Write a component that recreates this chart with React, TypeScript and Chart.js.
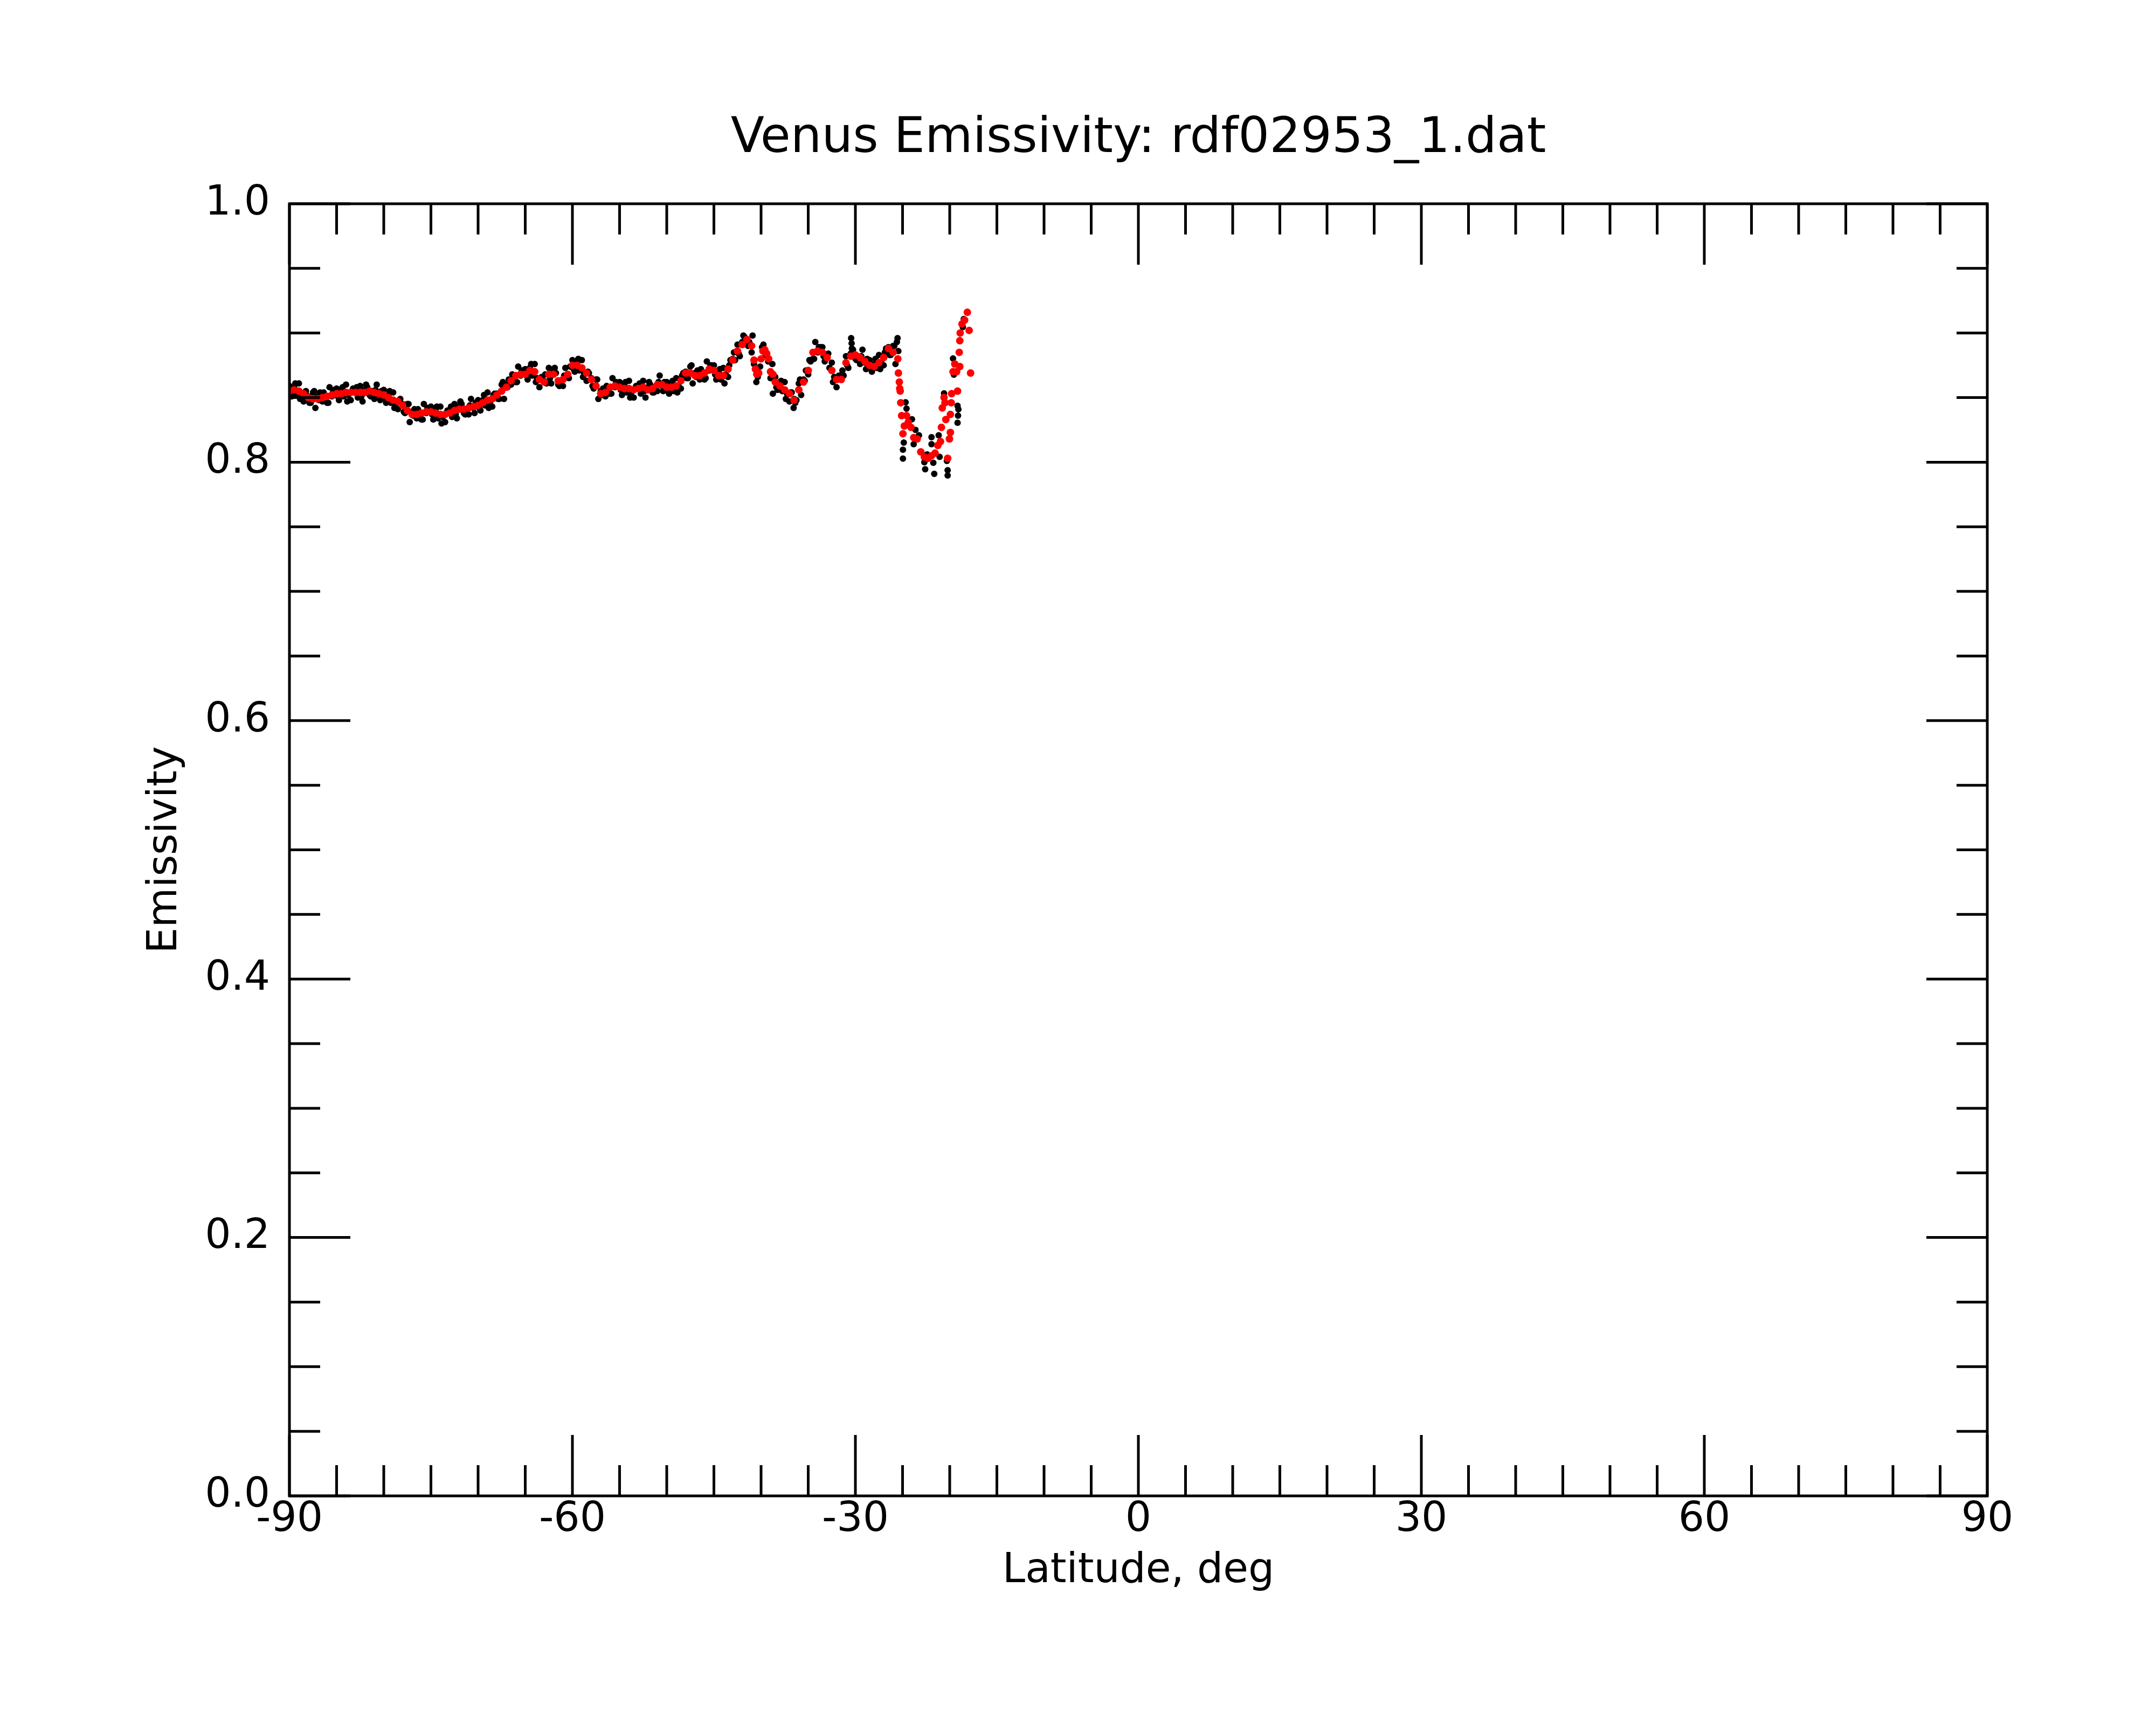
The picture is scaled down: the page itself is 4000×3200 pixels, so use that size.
import { useEffect, useRef } from 'react'
import { Chart, registerables } from 'chart.js'

Chart.register(...registerables)

const FONT = '"DejaVu Sans", sans-serif'
const CHART_TITLE = 'Venus Emissivity: rdf02953_1.dat'
const X_TITLE = 'Latitude, deg'
const Y_TITLE = 'Emissivity'

// axis ticks
const xMajorTicks = [-90, -60, -30, 0, 30, 60, 90]
const xMinorStep = 5
const yMajorTicks = [0, 0.2, 0.4, 0.6, 0.8, 1.0]
const yMinorStep = 0.05

// smoothed emissivity (red)
const redLat = [
  -90, -89.5, -89, -88.5, -88, -87.5, -87, -86.5, -86, -85.5,
  -85, -84.5, -84, -83.5, -83, -82.5, -82, -81.5, -81, -80.5,
  -80, -79.5, -79, -78.5, -78, -77.5, -77, -76.5, -76, -75.5,
  -75, -74.5, -74, -73.5, -73, -72.5, -72, -71.5, -71, -70.5,
  -70, -69.5, -69, -68.5, -68, -67.5, -67, -66.5, -66, -65.5,
  -65, -64.5, -64, -63.5, -63, -62.5, -62, -61.5, -61, -60.5,
  -60, -59.5, -59, -58.5, -58, -57.5, -57, -56.5, -56, -55.5,
  -55, -54.5, -54, -53.5, -53, -52.5, -52, -51.5, -51, -50.5,
  -50, -49.5, -49, -48.5, -48, -47.5, -47, -46.5, -46, -45.5,
  -45, -44.5, -44, -43.5, -43, -42.5, -42, -41.5, -41,
  -40.75, -40.6, -40.45, -40.25, -40, -39.8, -39.6, -39.4, -39.2, -39, -38.75,
  -38.5, -38, -37.5, -37, -36.5, -36, -35.5, -35, -34.5, -34,
  -33.5, -33, -32.5, -32, -31.5, -31, -30.5, -30, -29.5, -29,
  -28.5, -28, -27.5, -27, -26.5, -26, -25.5,
  -25.44, -25.34, -25.3, -25.25, -25.19, -25.1, -24.96, -24.81, -24.58, -24.39,
  -24.11, -23.82, -23.45, -23.07, -22.69, -22.31, -21.93, -21.55, -21.26, -20.98,
  -20.88, -20.79, -20.6, -20.5, -20.41, -20.22, -20.03, -19.93, -19.93, -19.84,
  -19.8, -19.65, -19.46, -19.27, -19.17, -18.99, -18.93, -18.93, -18.89, -18.7,
  -18.42, -18.13, -17.94, -17.79,
]
const redEmis = [
  0.855, 0.856, 0.855, 0.853, 0.85, 0.849, 0.849, 0.85, 0.851, 0.852,
  0.853, 0.853, 0.854, 0.854, 0.854, 0.854, 0.854, 0.855, 0.854, 0.853,
  0.852, 0.85, 0.848, 0.847, 0.844, 0.84, 0.837, 0.837, 0.838, 0.839,
  0.839, 0.838, 0.837, 0.837, 0.838, 0.84, 0.841, 0.841, 0.842, 0.843,
  0.844, 0.846, 0.848, 0.849, 0.852, 0.855, 0.858, 0.863, 0.867, 0.868,
  0.868, 0.871, 0.87, 0.864, 0.862, 0.868, 0.868, 0.863, 0.864, 0.868,
  0.875, 0.875, 0.873, 0.869, 0.864, 0.859, 0.853, 0.854, 0.858, 0.859,
  0.858, 0.857, 0.857, 0.856, 0.857, 0.858, 0.856, 0.857, 0.86, 0.86,
  0.858, 0.858, 0.859, 0.863, 0.869, 0.869, 0.867, 0.867, 0.869, 0.872,
  0.871, 0.867, 0.867, 0.872, 0.879, 0.886, 0.891, 0.895, 0.89,
  0.879, 0.872, 0.868, 0.869, 0.88, 0.886, 0.887, 0.884, 0.88, 0.87, 0.868,
  0.862, 0.859, 0.856, 0.853, 0.848, 0.856, 0.862, 0.871, 0.885, 0.886,
  0.885, 0.881, 0.871, 0.864, 0.864, 0.877, 0.882, 0.883, 0.881, 0.878,
  0.875, 0.874, 0.877, 0.881, 0.888, 0.885, 0.88,
  0.869, 0.862, 0.857, 0.855, 0.846, 0.836, 0.822, 0.828, 0.836, 0.831,
  0.827, 0.819, 0.818, 0.808, 0.804, 0.803, 0.805, 0.807, 0.813, 0.816,
  0.827, 0.842, 0.85, 0.846, 0.833, 0.803, 0.818, 0.823, 0.837, 0.846,
  0.853, 0.87, 0.876, 0.87, 0.855, 0.885, 0.874, 0.894, 0.9, 0.907,
  0.91, 0.916, 0.902, 0.869,
]

// raw emissivity (black), first pass
const blackLat = [
  -90, -89.75, -89.5, -89.25, -89, -88.75, -88.5, -88.25,
  -88, -87.75, -87.5, -87.25, -87, -86.75, -86.5, -86.25,
  -86, -85.75, -85.5, -85.25, -85, -84.75, -84.5, -84.25,
  -84, -83.75, -83.5, -83.25, -83, -82.75, -82.5, -82.25,
  -82, -81.75, -81.5, -81.25, -81, -80.75, -80.5, -80.25,
  -80, -79.75, -79.5, -79.25, -79, -78.75, -78.5, -78.25,
  -78, -77.75, -77.5, -77.25, -77, -76.75, -76.5, -76.25,
  -76, -75.75, -75.5, -75.25, -75, -74.75, -74.5, -74.25,
  -74, -73.75, -73.5, -73.25, -73, -72.75, -72.5, -72.25,
  -72, -71.75, -71.5, -71.25, -71, -70.75, -70.5, -70.25,
  -70, -69.75, -69.5, -69.25, -69, -68.75, -68.5, -68.25,
  -68, -67.75, -67.5, -67.25, -67, -66.75, -66.5, -66.25,
  -66, -65.75, -65.5, -65.25, -65, -64.75, -64.5, -64.25,
  -64, -63.75, -63.5, -63.25, -63, -62.75, -62.5, -62.25,
  -62, -61.75, -61.5, -61.25, -61, -60.75, -60.5, -60.25,
  -60, -59.75, -59.5, -59.25, -59, -58.75, -58.5, -58.25,
  -58, -57.75, -57.5, -57.25, -57, -56.75, -56.5, -56.25,
  -56, -55.75, -55.5, -55.25, -55, -54.75, -54.5, -54.25,
  -54, -53.75, -53.5, -53.25, -53, -52.75, -52.5, -52.25,
  -52, -51.75, -51.5, -51.25, -51, -50.75, -50.5, -50.25,
  -50, -49.75, -49.5, -49.25, -49, -48.75, -48.5, -48.25,
  -48, -47.75, -47.5, -47.25, -47, -46.75, -46.5, -46.25,
  -46, -45.75, -45.5, -45.25, -45, -44.75, -44.5, -44.25,
  -44, -43.75, -43.5, -43.25, -43, -42.75, -42.5, -42.25,
  -42, -41.75, -41.5, -41.25, -41,
  -40.9, -40.75, -40.5, -40.35, -40.1, -39.9, -39.75, -39.5, -39.25, -39, -38.8, -38.75,
  -38.5, -38.25, -38, -37.75, -37.5, -37.25, -37, -36.75,
  -36.5, -36.25, -36, -35.75, -35.5, -35.25, -35, -34.75,
  -34.5, -34.25, -34, -33.75, -33.5, -33.25, -33, -32.75,
  -32.5, -32.25, -32, -31.75, -31.5, -31.25, -31, -30.75,
  -30.5, -30.25, -30, -29.75, -29.5, -29.25, -29, -28.75,
  -28.5, -28.25, -28, -27.75, -27.5, -27.25, -27, -26.75,
  -26.5, -26.25, -26, -25.75,
  -36.55, -30.45, -30.4, -25.6, -25.53, -25.45,
  -24.96, -24.96, -24.87, -24.68, -24.58, -24, -23.82, -23.63, -23.26, -22.69,
  -22.6, -22.4, -21.93, -21.93, -21.74, -21.64, -21.17, -21.07, -20.6, -20.3,
  -20.22, -20.22, -19.65, -19.56, -19.17, -19.12, -19.08, -19.17, -18.61, -18.51,
]
const blackEmis = [
  0.859, 0.851, 0.858, 0.853, 0.861, 0.852, 0.847, 0.855,
  0.851, 0.846, 0.854, 0.842, 0.851, 0.854, 0.847, 0.851,
  0.846, 0.858, 0.851, 0.856, 0.857, 0.848, 0.855, 0.851,
  0.86, 0.852, 0.848, 0.857, 0.855, 0.85, 0.859, 0.847,
  0.856, 0.858, 0.852, 0.855, 0.849, 0.86, 0.852, 0.855,
  0.856, 0.846, 0.852, 0.846, 0.854, 0.845, 0.841, 0.849,
  0.845, 0.838, 0.845, 0.831, 0.839, 0.841, 0.834, 0.837,
  0.833, 0.845, 0.838, 0.842, 0.843, 0.833, 0.84, 0.834,
  0.843, 0.835, 0.831, 0.84, 0.839, 0.835, 0.845, 0.834,
  0.843, 0.845, 0.838, 0.841, 0.837, 0.849, 0.842, 0.846,
  0.848, 0.84, 0.848, 0.844, 0.854, 0.846, 0.843, 0.853,
  0.853, 0.849, 0.86, 0.849, 0.86, 0.864, 0.86, 0.865,
  0.862, 0.874, 0.867, 0.871, 0.872, 0.864, 0.873, 0.867,
  0.876, 0.865, 0.858, 0.866, 0.863, 0.861, 0.873, 0.861,
  0.87, 0.869, 0.86, 0.863, 0.859, 0.873, 0.867, 0.874,
  0.879, 0.87, 0.877, 0.871, 0.879, 0.869, 0.863, 0.869,
  0.865, 0.857, 0.864, 0.849, 0.855, 0.857, 0.851, 0.856,
  0.853, 0.865, 0.858, 0.861, 0.862, 0.852, 0.859, 0.854,
  0.863, 0.854, 0.85, 0.859, 0.858, 0.853, 0.863, 0.85,
  0.858, 0.86, 0.854, 0.858, 0.855, 0.867, 0.859, 0.862,
  0.862, 0.853, 0.86, 0.855, 0.865, 0.859, 0.857, 0.869,
  0.87, 0.865, 0.874, 0.861, 0.869, 0.871, 0.864, 0.868,
  0.864, 0.878, 0.871, 0.875, 0.875, 0.864, 0.869, 0.864,
  0.873, 0.868, 0.866, 0.879, 0.88, 0.879, 0.891, 0.882,
  0.893, 0.897, 0.892, 0.893, 0.885,
  0.898, 0.876, 0.862, 0.866, 0.874, 0.889, 0.891, 0.883, 0.878, 0.865, 0.876, 0.853,
  0.866, 0.856, 0.861, 0.855, 0.862, 0.853, 0.847, 0.854,
  0.849, 0.848, 0.861, 0.852, 0.864, 0.871, 0.868, 0.878,
  0.88, 0.893, 0.885, 0.889, 0.889, 0.878, 0.883, 0.873,
  0.877, 0.866, 0.858, 0.867, 0.865, 0.867, 0.882, 0.873,
  0.884, 0.887, 0.88, 0.882, 0.876, 0.887, 0.877, 0.88,
  0.879, 0.87, 0.876, 0.873, 0.883, 0.877, 0.875, 0.888,
  0.889, 0.883, 0.89, 0.876,
  0.842, 0.896, 0.892, 0.893, 0.896, 0.886,
  0.8097, 0.8028, 0.8152, 0.8464, 0.8415, 0.8332, 0.8139, 0.825, 0.8208, 0.8,
  0.7945, 0.806, 0.8194, 0.8139, 0.7995, 0.791, 0.8208, 0.8041, 0.8533, 0.801,
  0.7938, 0.7897, 0.8803, 0.8678, 0.8437, 0.836, 0.8409, 0.8305, 0.9046, 0.9108,
]

// raw emissivity (black), in-between samples
const blackLatB = [
  -89.875, -89.375, -88.875, -88.375, -87.875, -87.375, -86.875, -86.375, -85.875, -85.375,
  -84.875, -84.375, -83.875, -83.375, -82.875, -82.375, -81.875, -81.375, -80.875, -80.375,
  -79.875, -79.375, -78.875, -78.375, -77.875, -77.375, -76.875, -76.375, -75.875, -75.375,
  -74.875, -74.375, -73.875, -73.375, -72.875, -72.375, -71.875, -71.375, -70.875, -70.375,
  -69.875, -69.375, -68.875, -68.375, -67.875, -67.375, -66.875, -66.375, -65.875, -65.375,
  -64.875, -64.375, -63.875, -63.375, -62.875, -62.375, -61.875, -61.375, -60.875, -60.375,
  -59.875, -59.375, -58.875, -58.375, -57.875, -57.375, -56.875, -56.375, -55.875, -55.375,
  -54.875, -54.375, -53.875, -53.375, -52.875, -52.375, -51.875, -51.375, -50.875, -50.375,
  -49.875, -49.375, -48.875, -48.375, -47.875, -47.375, -46.875, -46.375, -45.875, -45.375,
  -44.875, -44.375, -43.875, -43.375, -42.875, -42.375, -41.875, -41.375,
  -38.375, -37.875, -37.375, -36.875, -36.375, -35.875, -35.375, -34.875, -34.375, -33.875,
  -33.375, -32.875, -32.375, -31.875, -31.375, -30.875, -30.375, -29.875, -29.375, -28.875,
  -28.375, -27.875, -27.375, -26.875, -26.375, -25.875,
]
const blackEmisB = [
  0.852, 0.861, 0.849, 0.854, 0.846, 0.855, 0.848, 0.854, 0.846, 0.855,
  0.851, 0.858, 0.847, 0.855, 0.858, 0.851, 0.86, 0.851, 0.856, 0.848,
  0.849, 0.855, 0.842, 0.848, 0.839, 0.845, 0.836, 0.841, 0.833, 0.842,
  0.837, 0.843, 0.83, 0.838, 0.843, 0.837, 0.847, 0.837, 0.844, 0.838,
  0.842, 0.852, 0.842, 0.852, 0.849, 0.862, 0.858, 0.868, 0.862, 0.871,
  0.867, 0.876, 0.862, 0.865, 0.868, 0.865, 0.873, 0.859, 0.867, 0.865,
  0.872, 0.88, 0.866, 0.87, 0.859, 0.864, 0.852, 0.859, 0.853, 0.862,
  0.856, 0.862, 0.85, 0.857, 0.861, 0.855, 0.862, 0.854, 0.862, 0.855,
  0.855, 0.863, 0.854, 0.867, 0.865, 0.875, 0.866, 0.872, 0.865, 0.875,
  0.868, 0.872, 0.861, 0.875, 0.885, 0.884, 0.898, 0.89,
  0.858, 0.863, 0.849, 0.854, 0.846, 0.864, 0.863, 0.879, 0.88, 0.889,
  0.882, 0.884, 0.862, 0.865, 0.871, 0.875, 0.888, 0.879, 0.882, 0.872,
  0.872, 0.88, 0.872, 0.885, 0.883, 0.89,
]

const framePlugin = {
  id: 'frame',
  afterDraw(chart: Chart) {
    const { ctx, chartArea: a, scales } = chart
    const xs = scales.x
    const ys = scales.y
    const majorLen = 113
    const minorLen = 57

    ctx.save()
    ctx.strokeStyle = '#000'
    ctx.lineWidth = 5
    ctx.strokeRect(a.left, a.top, a.right - a.left, a.bottom - a.top)

    ctx.beginPath()
    const xMin = xMajorTicks[0]
    const xMax = xMajorTicks[xMajorTicks.length - 1]
    for (let v = xMin; v <= xMax; v += xMinorStep) {
      const px = xs.getPixelForValue(v)
      const len = xMajorTicks.includes(v) ? majorLen : minorLen
      ctx.moveTo(px, a.bottom)
      ctx.lineTo(px, a.bottom - len)
      ctx.moveTo(px, a.top)
      ctx.lineTo(px, a.top + len)
    }
    const yMax = yMajorTicks[yMajorTicks.length - 1]
    const nMinor = Math.round(yMax / yMinorStep)
    for (let i = 0; i <= nMinor; i++) {
      const v = i * yMinorStep
      const py = ys.getPixelForValue(v)
      const isMajor = yMajorTicks.some(t => Math.abs(t - v) < 1e-9)
      const len = isMajor ? majorLen : minorLen
      ctx.moveTo(a.left, py)
      ctx.lineTo(a.left + len, py)
      ctx.moveTo(a.right, py)
      ctx.lineTo(a.right - len, py)
    }
    ctx.stroke()

    // titles
    const cx = (a.left + a.right) / 2
    ctx.fillStyle = '#000'
    ctx.textAlign = 'center'
    ctx.textBaseline = 'alphabetic'
    ctx.font = `91px ${FONT}`
    ctx.fillText(CHART_TITLE, cx, a.top - 96)
    ctx.font = `76px ${FONT}`
    ctx.fillText(X_TITLE, cx, a.bottom + 160)
    ctx.translate(a.left - 210, (a.top + a.bottom) / 2)
    ctx.rotate(-Math.PI / 2)
    ctx.fillText(Y_TITLE, 0, 0)
    ctx.restore()
  },
}

export default function App() {
  const chartRef = useRef<HTMLCanvasElement>(null)
  const chartInstance = useRef<Chart | null>(null)

  useEffect(() => {
    if (!chartRef.current) return
    document.body.style.margin = '0'

    if (chartInstance.current) {
      chartInstance.current.destroy()
    }

    const ctx = chartRef.current.getContext('2d')
    if (!ctx) return

    const redPoints = redLat.map((lat, i) => ({ x: lat, y: redEmis[i] }))
    const blackPoints = blackLat
      .map((lat, i) => ({ x: lat, y: blackEmis[i] }))
      .concat(blackLatB.map((lat, i) => ({ x: lat, y: blackEmisB[i] })))
    const tickFont = { family: FONT, size: 76 }

    chartInstance.current = new Chart(ctx, {
      type: 'scatter',
      data: {
        datasets: [
          {
            label: 'smoothed',
            data: redPoints,
            backgroundColor: '#ff0000',
            borderWidth: 0,
            pointRadius: 7,
          },
          {
            label: 'raw',
            data: blackPoints,
            backgroundColor: '#000000',
            borderWidth: 0,
            pointRadius: 6,
          },
        ],
      },
      options: {
        animation: false,
        responsive: false,
        devicePixelRatio: 1,
        events: [],
        layout: { padding: { left: 0, top: 378, right: 313, bottom: 0 } },
        plugins: {
          legend: { display: false },
          tooltip: { enabled: false },
          title: { display: false },
        },
        scales: {
          x: {
            type: 'linear',
            min: -90,
            max: 90,
            grid: { display: false, drawTicks: false },
            border: { display: false },
            ticks: {
              stepSize: 30,
              padding: 0,
              color: '#000',
              font: tickFont,
              maxRotation: 0,
              autoSkip: false,
              callback: (v) => String(v),
            },
            afterFit: (s) => {
              s.height = 425
            },
          },
          y: {
            type: 'linear',
            min: 0,
            max: 1,
            grid: { display: false, drawTicks: false },
            border: { display: false },
            ticks: {
              stepSize: 0.2,
              padding: 36,
              color: '#000',
              font: tickFont,
              callback: (v) => Number(v).toFixed(1),
            },
            afterFit: (s) => {
              s.width = 537
            },
          },
        },
      },
      plugins: [framePlugin],
    })

    return () => {
      if (chartInstance.current) {
        chartInstance.current.destroy()
        chartInstance.current = null
      }
    }
  }, [])

  return (
    <div style={{ width: 4000, height: 3200, background: '#fff' }}>
      <canvas ref={chartRef} width={4000} height={3200}></canvas>
    </div>
  )
}
